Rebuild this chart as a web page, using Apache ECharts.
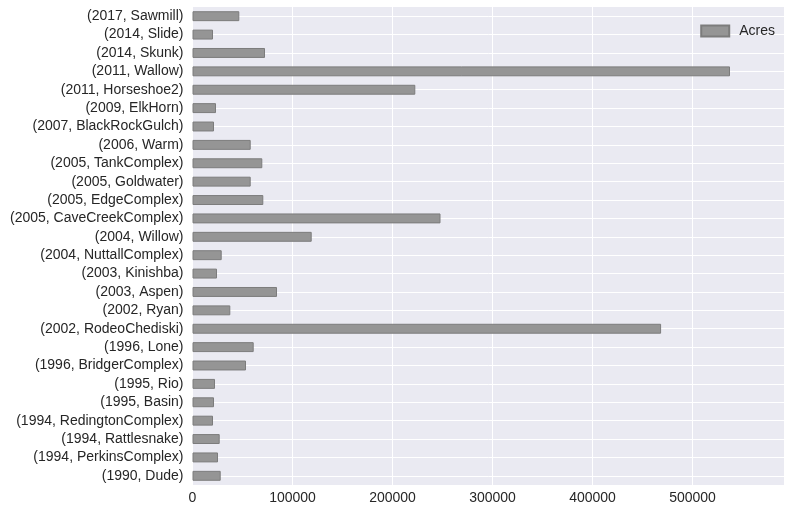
<!DOCTYPE html>
<html>
<head>
<meta charset="utf-8">
<script src="https://cdn.jsdelivr.net/npm/echarts@6/dist/echarts.min.js"></script>
<style>
html,body{margin:0;padding:0;background:#fff;}
#chart{width:790px;height:512px;}
</style>
</head>
<body>
<div id="chart"></div>
<script>
// Categories listed bottom to top (as drawn)
var categories = [
  '(1990, Dude)', '(1994, PerkinsComplex)', '(1994, Rattlesnake)', '(1994, RedingtonComplex)',
  '(1995, Basin)', '(1995, Rio)', '(1996, BridgerComplex)', '(1996, Lone)',
  '(2002, RodeoChediski)', '(2002, Ryan)', '(2003, Aspen)', '(2003, Kinishba)',
  '(2004, NuttallComplex)', '(2004, Willow)', '(2005, CaveCreekComplex)', '(2005, EdgeComplex)',
  '(2005, Goldwater)', '(2005, TankComplex)', '(2006, Warm)', '(2007, BlackRockGulch)',
  '(2009, ElkHorn)', '(2011, Horseshoe2)', '(2011, Wallow)', '(2014, Skunk)',
  '(2014, Slide)', '(2017, Sawmill)'
];
var acres = [
  28200, 25500, 27200, 20500,
  21500, 22500, 53500, 61200,
  468600, 37800, 84500, 24500,
  29200, 119200, 248000, 70800,
  58200, 69800, 58200, 21500,
  23500, 222800, 537500, 72500,
  20500, 46800
];
var xTicks = [0, 100000, 200000, 300000, 400000, 500000];
var xMax = 591500;
var seriesName = 'Acres';

var font = "'Liberation Sans', Arial, sans-serif";
var chart = echarts.init(document.getElementById('chart'));
chart.setOption({
  animation: false,
  textStyle: {fontFamily: font},
  grid: {left: 192.5, right: 6, top: 7, bottom: 27, show: true, backgroundColor: '#EAEAF2', borderWidth: 0, outerBoundsMode: 'none', containLabel: false},
  legend: {
    data: [seriesName], right: 10, top: 19, icon: 'rect',
    itemWidth: 28, itemHeight: 11,
    textStyle: {fontSize: 14, color: '#262626', fontFamily: font, padding: [0, 0, 0, 5]}
  },
  xAxis: {
    type: 'value', min: 0, max: xMax, interval: 100000,
    axisLine: {show: false}, axisTick: {show: false},
    axisLabel: {
      fontSize: 14, color: '#262626', margin: 6, fontFamily: font, showMaxLabel: false,
      formatter: function (v) { return xTicks.indexOf(v) >= 0 ? String(v) : ''; }
    },
    splitLine: {show: true, lineStyle: {color: '#ffffff', width: 1}}
  },
  yAxis: {
    type: 'category', data: categories,
    axisLine: {show: false}, axisTick: {show: false},
    axisLabel: {fontSize: 14, color: '#262626', margin: 9, fontFamily: font, interval: 0},
    splitLine: {show: false}
  },
  series: [{
    name: seriesName, type: 'bar', data: acres, barWidth: '54%', z: 2,
    itemStyle: {color: '#959595', borderColor: '#7c7c7c', borderWidth: 1},
    markLine: {
      z: 1, silent: true, symbol: 'none', animation: false,
      label: {show: false},
      lineStyle: {color: '#ffffff', width: 1, type: 'solid'},
      emphasis: {disabled: true},
      data: categories.map(function (c) { return {yAxis: c}; })
    }
  }]
});
</script>
</body>
</html>
